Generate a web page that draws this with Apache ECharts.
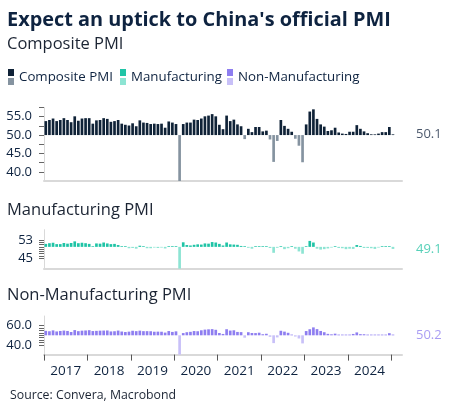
<!DOCTYPE html>
<html>
<head>
<meta charset="utf-8">
<script src="https://cdn.jsdelivr.net/npm/echarts@6/dist/echarts.min.js"></script>
<style>
html,body{margin:0;padding:0;background:#fff;}
#c{width:453px;height:417px;}
</style>
</head>
<body>
<div id="c"></div>
<script>
// Monthly data, Jan 2017 .. Jan 2025
var startYear = 2017;
var years = ['2017','2018','2019','2020','2021','2022','2023','2024'];
var composite = [
  53.8,54.1,54.5,53.8,54.1,54.6,54.1,53.5,55.1,53.9,54.5,54.6,
  54.6,53.1,54.0,54.1,54.6,54.4,53.6,53.8,54.1,53.1,52.8,52.6,
  53.2,52.4,54.0,53.4,53.3,53.0,53.1,53.0,53.1,52.0,53.7,53.4,
  53.0,28.9,53.0,53.4,53.4,54.2,54.1,54.5,55.1,55.3,55.7,55.1,
  52.8,51.6,55.3,53.8,54.2,52.9,52.4,48.9,51.7,50.8,52.2,52.2,
  51.0,51.2,48.8,42.7,48.4,54.1,52.5,51.7,50.9,49.0,47.1,42.6,
  52.9,56.4,57.0,54.4,52.9,52.3,51.1,51.3,52.0,50.7,50.4,50.3,
  50.9,50.9,52.7,51.7,51.0,50.5,50.2,50.1,50.4,50.8,50.8,52.2,
  50.1
];
var manufacturing = [
  51.3,51.6,51.8,51.2,51.2,51.7,51.4,51.7,52.4,51.6,51.8,51.6,
  51.3,50.3,51.5,51.4,51.9,51.5,51.2,51.3,50.8,50.2,50.0,49.4,
  49.5,49.2,50.5,50.1,49.4,49.4,49.7,49.5,49.8,49.3,50.2,50.2,
  50.0,35.7,52.0,50.8,50.6,50.9,51.1,51.0,51.5,51.4,52.1,51.9,
  51.3,50.6,51.9,51.1,51.0,50.9,50.4,50.1,49.6,49.2,50.1,50.3,
  50.1,50.2,49.5,47.4,49.6,50.2,49.0,49.4,50.1,49.2,48.0,47.0,
  50.1,52.6,51.9,49.2,48.8,49.0,49.3,49.7,50.2,49.5,49.4,49.0,
  49.2,49.1,50.8,50.4,49.5,49.5,49.4,49.1,49.8,50.1,50.3,50.1,
  49.1
];
var nonManufacturing = [
  54.6,54.2,55.1,54.0,54.5,54.9,54.5,53.4,55.4,54.3,54.8,55.0,
  55.3,54.4,54.6,54.8,54.9,55.0,54.0,54.2,54.9,53.9,53.4,53.8,
  54.7,54.3,54.8,54.3,54.3,54.2,53.7,53.8,53.7,52.8,54.4,53.5,
  54.1,29.6,52.3,53.2,53.6,54.4,54.2,55.2,55.9,56.2,56.4,55.7,
  52.4,51.4,56.3,54.9,55.2,53.5,53.3,47.5,53.2,52.4,52.3,52.7,
  51.1,51.6,48.4,41.9,47.8,54.7,53.8,52.6,50.6,48.7,46.7,41.6,
  54.4,56.3,58.2,56.4,54.5,53.2,51.5,51.0,51.7,50.6,50.2,50.4,
  50.7,51.4,53.0,51.2,51.1,50.5,50.2,50.3,50.0,50.2,50.0,52.2,
  50.2
];
var compositeTicks = [40,42.5,45,47.5,50,52.5,55,57.5];
var compositeLabels = [40,45,50,55];
var mfgTicks = [45,46,47,48,49,50,51,52,53];
var mfgLabels = [45,53];
var nonMfgTicks = [40,42.5,45,47.5,50,52.5,55,57.5,60];
var nonMfgLabels = [40,60];
var yearTicks = [0,12,24,36,48,60,72,84,96];
var yearLabelPos = [6,18,30,42,54,66,78,90];

var FONT = 'Open Sans';
var NAVY = '#0e2340';
var colors = {
  comp: ['#0f2237', '#8593a0'],
  mfg: ['#1fc4a6', '#8de4d3'],
  nonm: ['#8e7ef0', '#c8c0f8']
};

function toPoints(arr){ return arr.map(function(v,i){ return [i+0.5, v]; }); }

function barRenderer(pos, neg){
  return function(params, api){
    var x = api.value(0), v = api.value(1);
    var b = api.coord([x, 50]);
    var t = api.coord([x, v]);
    var w = api.size([1, 0])[0] * 0.74;
    var cs = params.coordSys;
    var y1 = Math.min(b[1], t[1]), y2 = Math.max(b[1], t[1]);
    y1 = Math.max(y1, cs.y); y2 = Math.min(y2, cs.y + cs.height);
    var h = Math.max(y2 - y1, 0.7);
    if (v < 50 && y2 - y1 < 0.7) { y1 = b[1]; }
    else if (v >= 50 && y2 - y1 < 0.7) { y1 = b[1] - 0.7; }
    return {type:'rect', shape:{x: t[0]-w/2, y: y1, width: w, height: h},
            style:{fill: v >= 50 ? pos : neg}};
  };
}

var grids = [
  {left:44, width:358, top:107.5, height:73.5},
  {left:44, width:358, top:229.7, height:38.9},
  {left:44, width:358, top:316, height:38.6}
];

function xAxis(idx, showLabels){
  return {
    type:'value', gridIndex: idx, min:0, max:99,
    axisLine:{show:true, onZero:false, lineStyle:{color:'#d9d9d9', width:2}},
    splitLine:{show:false},
    axisTick:{show: showLabels, customValues: yearTicks, length:6, lineStyle:{color:'#555', width:1}},
    axisLabel:{show: showLabels, customValues: yearLabelPos, margin:10,
      color: NAVY, fontFamily: FONT, fontSize: 13.5,
      formatter: function(v){ return years[Math.round((v-6)/12)]; }}
  };
}
function yAxis(idx, min, max, ticks, labels, dec){
  return {
    type:'value', gridIndex: idx, min:min, max:max,
    axisLine:{show:true, lineStyle:{color:'#d9d9d9', width:1}},
    splitLine:{show:false},
    axisTick:{show:true, customValues: ticks, length:5, lineStyle:{color:'#666', width:1}},
    axisLabel:{customValues: labels, margin: dec ? 12 : 11, color: NAVY, fontFamily: FONT, fontSize: 13,
      formatter: function(v){ return dec ? v.toFixed(1) : String(v); }}
  };
}

function lastLabel(idx, arr, color){
  var n = arr.length;
  return {
    type:'scatter', xAxisIndex: idx, yAxisIndex: idx, symbolSize: 0, silent: true,
    data: [[n-0.5, arr[n-1]]],
    label:{show:true, position:'right', distance: 23, color: color, fontFamily: FONT, fontSize: 13,
      formatter: function(p){ return p.value[1].toFixed(1); }}
  };
}

var graphic = [
  {type:'text', left:7, top:10, style:{text:"Expect an uptick to China's official PMI", font:'bold 19.9px "' + FONT + '"', fill: NAVY}},
  {type:'text', left:7, top:36, style:{text:'Composite PMI', font:'16.5px "' + FONT + '"', fill:'#1b2433'}},
  {type:'text', left:7, top:202, style:{text:'Manufacturing PMI', font:'16.5px "' + FONT + '"', fill:'#1b2433'}},
  {type:'text', left:7, top:287, style:{text:'Non-Manufacturing PMI', font:'16.5px "' + FONT + '"', fill:'#1b2433'}},
  {type:'text', left:10, top:389.5, style:{text:'Source: Convera, Macrobond', font:'12.3px "' + FONT + '"', fill:'#1b2433'}}
];
var legendItems = [
  {name:'Composite PMI', c: colors.comp, x: 8},
  {name:'Manufacturing', c: colors.mfg, x: 120},
  {name:'Non-Manufacturing', c: colors.nonm, x: 227}
];
legendItems.forEach(function(it){
  graphic.push({type:'rect', shape:{x: it.x, y:69, width:6, height:7}, style:{fill: it.c[0]}});
  graphic.push({type:'rect', shape:{x: it.x, y:78, width:6, height:7}, style:{fill: it.c[1]}});
  graphic.push({type:'text', x: it.x + 11, y: 77.5, style:{text: it.name, font:'13.3px "' + FONT + '"', fill: NAVY, textVerticalAlign:'middle'}});
});

var chart = echarts.init(document.getElementById('c'), null, {renderer:'canvas'});
chart.setOption({
  animation:false,
  backgroundColor:'#fff',
  grid: grids,
  xAxis: [xAxis(0,false), xAxis(1,false), xAxis(2,true)],
  yAxis: [
    yAxis(0, 37.5, 57.5, compositeTicks, compositeLabels, true),
    yAxis(1, 40.5, 57.5, mfgTicks, mfgLabels, false),
    yAxis(2, 30, 70, nonMfgTicks, nonMfgLabels, true)
  ],
  series: [
    {type:'custom', name:'Composite PMI', xAxisIndex:0, yAxisIndex:0, renderItem: barRenderer(colors.comp[0], colors.comp[1]), data: toPoints(composite), encode:{x:0,y:1}},
    {type:'custom', name:'Manufacturing', xAxisIndex:1, yAxisIndex:1, renderItem: barRenderer(colors.mfg[0], colors.mfg[1]), data: toPoints(manufacturing), encode:{x:0,y:1}},
    {type:'custom', name:'Non-Manufacturing', xAxisIndex:2, yAxisIndex:2, renderItem: barRenderer(colors.nonm[0], colors.nonm[1]), data: toPoints(nonManufacturing), encode:{x:0,y:1}},
    lastLabel(0, composite, '#1a2b44'),
    lastLabel(1, manufacturing, '#2cc4a6'),
    lastLabel(2, nonManufacturing, '#9384f0')
  ],
  graphic: graphic
});
</script>
</body>
</html>
